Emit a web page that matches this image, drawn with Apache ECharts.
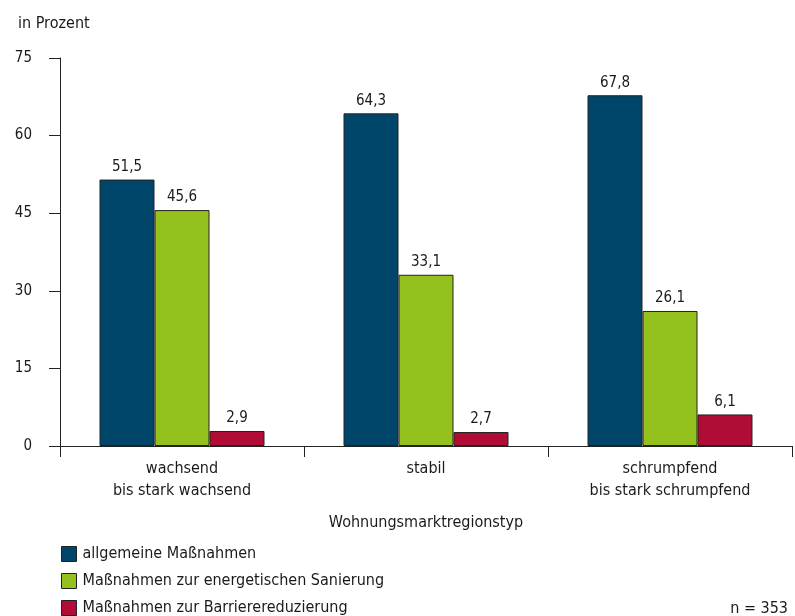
<!DOCTYPE html>
<html>
<head>
<meta charset="utf-8">
<script src="https://cdn.jsdelivr.net/npm/echarts@6/dist/echarts.min.js"></script>
<style>
html,body{margin:0;padding:0;background:#fff;}
#c{width:795px;height:616px;}
</style>
</head>
<body>
<div id="c"></div>
<script>
var categories = ['wachsend\nbis stark wachsend', 'stabil', 'schrumpfend\nbis stark schrumpfend'];
var seriesNames = ['allgemeine Maßnahmen', 'Maßnahmen zur energetischen Sanierung', 'Maßnahmen zur Barrierereduzierung'];
var allgemein = [51.5, 64.3, 67.8];
var energetisch = [45.6, 33.1, 26.1];
var barriere = [2.9, 2.7, 6.1];
var colors = ['#00466A', '#95C11F', '#B00C36'];

var FONT = '"Liberation Sans Narrow", "DejaVu Sans Condensed", "Roboto Condensed", Roboto, sans-serif';
var TXT = '#1a1a1a';

function fmt(v){ return String(v.toFixed(1)).replace('.', ','); }

var data = [allgemein, energetisch, barriere];
var series = data.map(function(d, i){
  return {
    name: seriesNames[i],
    type: 'bar',
    data: d,
    barWidth: 55,
    barGap: '0%',
    itemStyle: {color: colors[i], borderColor: '#222', borderWidth: 1},
    label: {
      show: true, position: 'top', distance: 5,
      color: TXT, fontFamily: FONT, fontSize: 15,
      formatter: function(p){ return fmt(p.value); }
    }
  };
});

var chart = echarts.init(document.getElementById('c'), null, {renderer: 'canvas'});
chart.setOption({
  animation: false,
  backgroundColor: '#fff',
  textStyle: {fontFamily: FONT},
  title: [
    {text: 'in Prozent', left: 13, top: 11, textStyle: {fontFamily: FONT, fontSize: 16, fontWeight: 'normal', color: TXT}},
    {text: 'n = 353', right: 2, top: 596, textStyle: {fontFamily: FONT, fontSize: 16, fontWeight: 'normal', color: TXT}}
  ],
  grid: {left: 60, right: 3, top: 58, bottom: 170, containLabel: false},
  legend: {
    orient: 'vertical', left: 61, top: 546, height: 80, padding: 0,
    itemWidth: 15, itemHeight: 15, itemGap: 11,
    icon: 'rect',
    textStyle: {fontFamily: FONT, fontSize: 16, color: TXT, padding: [0,0,0,1]},
    data: seriesNames.map(function(n){ return {name: n, itemStyle: {borderColor: '#222', borderWidth: 1}}; })
  },
  xAxis: {
    type: 'category',
    data: categories,
    name: 'Wohnungsmarktregionstyp',
    nameLocation: 'middle',
    nameGap: 69,
    nameTextStyle: {fontFamily: FONT, fontSize: 16, color: TXT},
    axisLine: {lineStyle: {color: '#222', width: 1}},
    axisTick: {show: true, length: 11, lineStyle: {color: '#222'}},
    axisLabel: {fontFamily: FONT, fontSize: 16, color: TXT, margin: 12, lineHeight: 22}
  },
  yAxis: {
    type: 'value',
    min: 0, max: 75, interval: 15,
    axisLine: {show: true, lineStyle: {color: '#222', width: 1}},
    axisTick: {show: true, length: 11, lineStyle: {color: '#222'}},
    axisLabel: {fontFamily: FONT, fontSize: 15, color: TXT, margin: 28},
    splitLine: {show: false}
  },
  series: series
});
</script>
</body>
</html>
